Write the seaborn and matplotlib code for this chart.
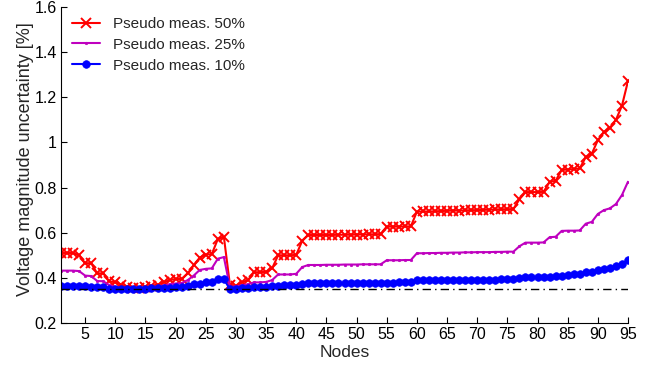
import matplotlib
matplotlib.use("Agg")
import matplotlib.pyplot as plt
import seaborn as sns
import pandas as pd

nodes = list(range(1, 96))

pseudo_50 = [0.51, 0.51, 0.51, 0.50, 0.465, 0.465, 0.42, 0.42, 0.385, 0.38,
             0.37, 0.36, 0.355, 0.355, 0.36, 0.365, 0.37, 0.38, 0.39, 0.395,
             0.395, 0.42, 0.455, 0.49, 0.503, 0.505, 0.572, 0.582, 0.37, 0.365,
             0.38, 0.39, 0.425, 0.425, 0.427, 0.442, 0.50, 0.50, 0.50, 0.502,
             0.565, 0.59, 0.59, 0.59, 0.59, 0.59, 0.591, 0.591, 0.591, 0.592,
             0.592, 0.593, 0.593, 0.594, 0.627, 0.627, 0.627, 0.628, 0.628, 0.693,
             0.694, 0.694, 0.695, 0.696, 0.697, 0.698, 0.698, 0.699, 0.70, 0.70,
             0.701, 0.702, 0.703, 0.704, 0.704, 0.705, 0.748, 0.78, 0.78, 0.78,
             0.781, 0.825, 0.83, 0.878, 0.88, 0.882, 0.885, 0.935, 0.95, 1.01,
             1.045, 1.065, 1.10, 1.163, 1.272]

pseudo_25 = [0.432, 0.432, 0.432, 0.43, 0.41, 0.408, 0.386, 0.385, 0.368, 0.36,
             0.358, 0.354, 0.353, 0.353, 0.355, 0.358, 0.362, 0.366, 0.372, 0.375,
             0.377, 0.39, 0.41, 0.435, 0.44, 0.442, 0.485, 0.492, 0.36, 0.362,
             0.367, 0.372, 0.38, 0.38, 0.382, 0.39, 0.415, 0.415, 0.415, 0.418,
             0.448, 0.457, 0.457, 0.457, 0.458, 0.458, 0.458, 0.459, 0.459, 0.459,
             0.46, 0.46, 0.46, 0.46, 0.478, 0.478, 0.478, 0.479, 0.479, 0.509,
             0.509, 0.51, 0.51, 0.511, 0.511, 0.512, 0.512, 0.513, 0.513, 0.514,
             0.514, 0.514, 0.515, 0.515, 0.516, 0.516, 0.54, 0.556, 0.556, 0.556,
             0.557, 0.58, 0.582, 0.608, 0.609, 0.609, 0.61, 0.64, 0.648, 0.683,
             0.70, 0.708, 0.727, 0.767, 0.826]

pseudo_10 = [0.366, 0.366, 0.363, 0.362, 0.362, 0.361, 0.36, 0.358, 0.352, 0.351,
             0.35, 0.35, 0.35, 0.351, 0.352, 0.354, 0.355, 0.356, 0.357, 0.358,
             0.36, 0.363, 0.372, 0.375, 0.38, 0.382, 0.393, 0.394, 0.35, 0.351,
             0.354, 0.356, 0.358, 0.359, 0.36, 0.364, 0.366, 0.367, 0.367, 0.368,
             0.373, 0.376, 0.376, 0.376, 0.377, 0.377, 0.377, 0.377, 0.378, 0.378,
             0.378, 0.378, 0.379, 0.379, 0.379, 0.379, 0.38, 0.38, 0.38, 0.39,
             0.39, 0.39, 0.39, 0.391, 0.391, 0.391, 0.391, 0.391, 0.392, 0.392,
             0.392, 0.392, 0.392, 0.393, 0.393, 0.393, 0.398, 0.402, 0.402, 0.403,
             0.404, 0.406, 0.408, 0.41, 0.414, 0.416, 0.418, 0.424, 0.427, 0.434,
             0.441, 0.444, 0.452, 0.461, 0.479]

baseline = [0.35] * len(nodes)

labels = ["Pseudo meas. 50%", "Pseudo meas. 25%", "Pseudo meas. 10%"]
x_ticks = list(range(5, 96, 5))
y_ticks = [0.2, 0.4, 0.6, 0.8, 1.0, 1.2, 1.4, 1.6]
y_tick_labels = ["0.2", "0.4", "0.6", "0.8", "1", "1.2", "1.4", "1.6"]

sns.set_style("ticks")
plt.rcParams['font.family'] = ['Liberation Sans', 'DejaVu Sans']

fig = plt.figure(figsize=(6.5, 3.67), dpi=100)
ax = fig.add_axes([61/650, 1 - 323/367, (628 - 61)/650, (323 - 7)/367])

red, mag, blue = "#ff0000", "#bf00bf", "#0000ff"
sns.lineplot(x=nodes, y=pseudo_50, ax=ax, color=red, marker="x",
             markersize=7, markeredgewidth=1.4, markeredgecolor=red,
             linewidth=1.5, label=labels[0])
sns.lineplot(x=nodes, y=pseudo_25, ax=ax, color=mag, marker=".",
             markersize=3.5, markeredgewidth=0.5, markeredgecolor=mag,
             linewidth=1.5, label=labels[1])
sns.lineplot(x=nodes, y=pseudo_10, ax=ax, color=blue, marker="o",
             markersize=5.5, markeredgewidth=0.5, markeredgecolor=blue,
             linewidth=1.5, label=labels[2])
sns.lineplot(x=nodes, y=baseline, ax=ax, color="black", linewidth=1.0,
             linestyle=(0, (6, 3, 1, 3)), legend=False)

ax.set_xlim(1, 95)
ax.set_ylim(0.2, 1.6)
ax.set_xticks(x_ticks)
ax.set_yticks(y_ticks)
ax.set_yticklabels(y_tick_labels)
ax.tick_params(direction="in", length=4, width=0.8, labelsize=11.5,
               colors="black", pad=3)
for s in ["top", "right"]:
    ax.spines[s].set_visible(False)
for s in ["left", "bottom"]:
    ax.spines[s].set_color("black")
    ax.spines[s].set_linewidth(0.8)

ax.set_xlabel("Nodes", fontsize=12.5)
ax.set_ylabel("Voltage magnitude uncertainty [%]", fontsize=13)
ax.xaxis.set_label_coords(0.501, -0.07)
ax.yaxis.set_label_coords(-0.047, 0.52)

leg = ax.legend(loc="upper left", frameon=False, fontsize=11,
                handlelength=1.85, handletextpad=0.8, borderaxespad=0,
                borderpad=0.4, labelspacing=0.45,
                bbox_to_anchor=(0.009, 0.988))

fig.savefig("out.png", dpi=100)
